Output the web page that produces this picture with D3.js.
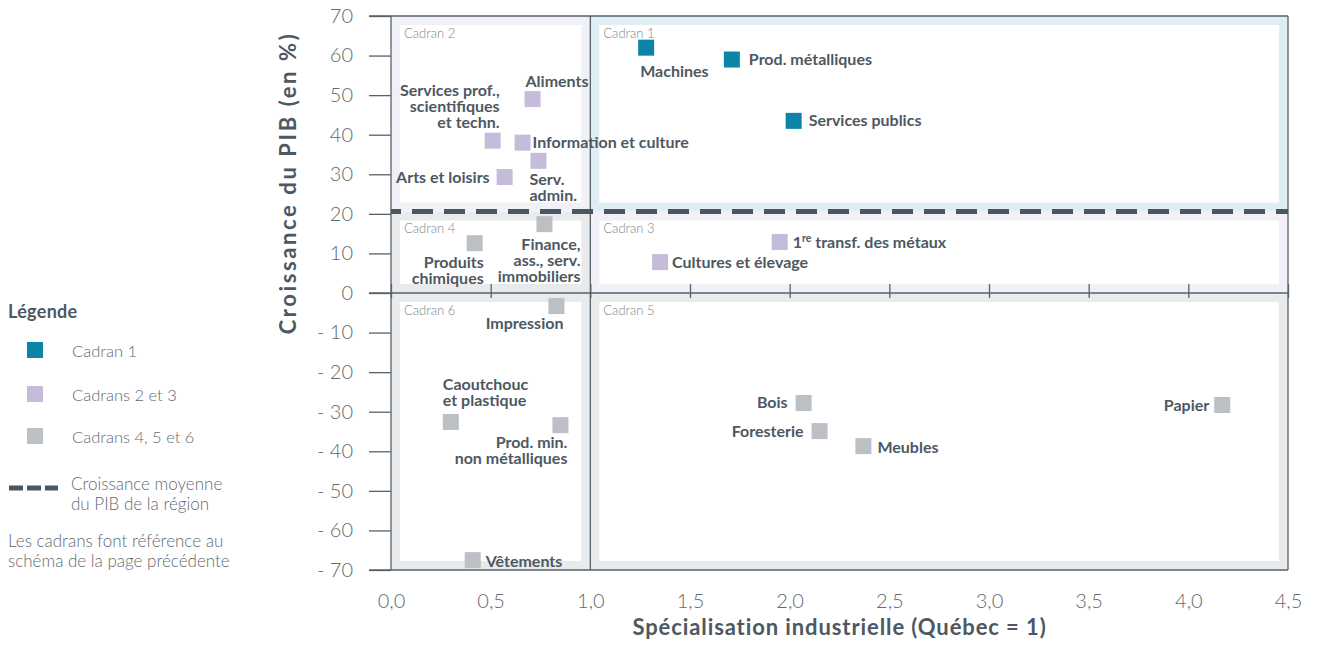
<!DOCTYPE html>
<html>
<head>
<meta charset="utf-8">
<script src="https://cdn.jsdelivr.net/npm/d3@7/dist/d3.min.js"></script>
<style>
  html, body { margin: 0; padding: 0; background: #fff; }
  svg { display: block; font-family: Lato, "Open Sans", sans-serif; }
</style>
</head>
<body>
<svg id="chart" width="1319" height="651"></svg>
<script>
// ---- Data ----
const secteurs = ["Machines", "Prod. métalliques", "Services publics", "Aliments", "Services prof.",
  "Information et culture", "Serv. admin.", "Arts et loisirs", "Finance", "Produits chimiques",
  "1re transf. des métaux", "Cultures et élevage", "Impression", "Caoutchouc et plastique",
  "Prod. min. non métalliques", "Vêtements", "Bois", "Foresterie", "Meubles", "Papier"];
const specialisation = [1.28, 1.71, 2.02, 0.71, 0.51, 0.66, 0.74, 0.57, 0.77, 0.42,
  1.95, 1.35, 0.83, 0.30, 0.85, 0.41, 2.07, 2.15, 2.37, 4.17];
const croissance = [62, 59, 43.5, 49, 38.5, 38, 33.4, 29.3, 17.4, 12.6,
  12.9, 7.8, -3.3, -32.6, -33.4, -67.5, -27.8, -34.9, -38.7, -28.3];
const groupe = [1, 1, 1, 2, 2, 2, 2, 2, 4, 4, 2, 2, 4, 4, 4, 4, 4, 4, 4, 4];
const etiquettes = [["Machines"], ["Prod. métalliques"], ["Services publics"], ["Aliments"],
  ["Services prof.,", "scientifiques", "et techn."], ["Information et culture"], ["Serv.", "admin."],
  ["Arts et loisirs"], ["Finance,", "ass., serv.", "immobiliers"], ["Produits", "chimiques"],
  ["1re transf. des métaux"], ["Cultures et élevage"], ["Impression"], ["Caoutchouc", "et plastique"],
  ["Prod. min.", "non métalliques"], ["Vêtements"], ["Bois"], ["Foresterie"], ["Meubles"], ["Papier"]];
const croissanceMoyenne = 20.6;
const seuilSpecialisation = 1;
const xTicks = [0, 0.5, 1, 1.5, 2, 2.5, 3, 3.5, 4, 4.5];
const yTicks = [70, 60, 50, 40, 30, 20, 10, 0, -10, -20, -30, -40, -50, -60, -70];
const legendeItems = ["Cadran 1", "Cadrans 2 et 3", "Cadrans 4, 5 et 6"];
const cadrans = [
  {nom: "Cadran 1", x: [1, 4.5], y: [croissanceMoyenne, 70], bg: "#dfeef3"},
  {nom: "Cadran 2", x: [0, 1], y: [croissanceMoyenne, 70], bg: "#f0f0f6"},
  {nom: "Cadran 3", x: [1, 4.5], y: [0, croissanceMoyenne], bg: "#f0f0f6"},
  {nom: "Cadran 4", x: [0, 1], y: [0, croissanceMoyenne], bg: "#e9eaec"},
  {nom: "Cadran 5", x: [1, 4.5], y: [-70, 0], bg: "#e9eaec"},
  {nom: "Cadran 6", x: [0, 1], y: [-70, 0], bg: "#e9eaec"}
];

// ---- Label placement (px offsets from point centre) ----
const placement = {
  "Machines": {dx: -6, dy: 29, a: "start"},
  "Prod. métalliques": {dx: 17, dy: 5, a: "start"},
  "Services publics": {dx: 15, dy: 5, a: "start"},
  "Aliments": {dx: -7, dy: -12, a: "start"},
  "Services prof.": {dx: 7, dy: -45, a: "end"},
  "Information et culture": {dx: 10, dy: 5, a: "start"},
  "Serv. admin.": {dx: -9, dy: 24, a: "start"},
  "Arts et loisirs": {dx: -15, dy: 6, a: "end"},
  "Finance": {dx: 36, dy: 26, a: "end"},
  "Produits chimiques": {dx: 9, dy: 25, a: "end"},
  "1re transf. des métaux": {dx: 13, dy: 6, a: "start"},
  "Cultures et élevage": {dx: 12, dy: 6, a: "start"},
  "Impression": {dx: 7, dy: 23, a: "end"},
  "Caoutchouc et plastique": {dx: -8, dy: -32, a: "start"},
  "Prod. min. non métalliques": {dx: 7, dy: 23, a: "end"},
  "Vêtements": {dx: 13, dy: 7, a: "start"},
  "Bois": {dx: -16, dy: 5, a: "end"},
  "Foresterie": {dx: -16, dy: 6, a: "end"},
  "Meubles": {dx: 14, dy: 7, a: "start"},
  "Papier": {dx: -13, dy: 6, a: "end"}
};

const couleurs = {1: "#0b84a5", 2: "#c4bcd9", 4: "#bcbfc3"};
const frameColor = "#56626b";
const textColor = "#4d5862";
const lightText = "#5f6a72";

const svg = d3.select("#chart");
const x = d3.scaleLinear().domain([0, 4.5]).range([391, 1288]);
const y = d3.scaleLinear().domain([-70, 70]).range([570, 16]);

// quadrant backgrounds
const inset = 9;
const gq = svg.append("g");
cadrans.forEach(c => {
  const x0 = x(c.x[0]), x1 = x(c.x[1]), y0 = y(c.y[1]), y1 = y(c.y[0]);
  gq.append("rect").attr("x", x0).attr("y", y0).attr("width", x1 - x0).attr("height", y1 - y0).attr("fill", c.bg);
  gq.append("rect").attr("x", x0 + inset).attr("y", y0 + inset).attr("width", x1 - x0 - 2 * inset)
    .attr("height", y1 - y0 - 2 * inset).attr("fill", "#fff");
  gq.append("text").attr("x", x0 + 13).attr("y", y0 + 22).attr("font-size", 13).attr("font-weight", 300)
    .attr("fill", "#7d878f").text(c.nom);
});

// y axis ticks & labels
const yAxis = d3.axisLeft(y).tickValues(yTicks).tickSize(22).tickPadding(16)
  .tickFormat(d => d < 0 ? "- " + Math.abs(d) : String(d));
const gy = svg.append("g").attr("transform", `translate(${x(0)},0)`).call(yAxis);
gy.select(".domain").remove();
gy.selectAll("line").attr("stroke", frameColor).attr("stroke-width", 1.3);
gy.selectAll("text").attr("font-size", 20).attr("font-weight", 300).attr("fill", lightText)
  .attr("font-family", "Lato, sans-serif");

// frame lines
const gf = svg.append("g").attr("stroke", frameColor).attr("stroke-width", 1.3);
[0, seuilSpecialisation, 4.5].forEach(v => gf.append("line").attr("x1", x(v)).attr("x2", x(v)).attr("y1", y(70)).attr("y2", y(-70)));
[70, 0, -70].forEach(v => gf.append("line").attr("x1", x(0) - 22).attr("x2", x(4.5)).attr("y1", y(v)).attr("y2", y(v)));

// ticks on zero line
const gz = svg.append("g").attr("transform", `translate(0,${y(0)})`)
  .call(d3.axisBottom(x).tickValues(xTicks).tickSize(5).tickFormat(""));
gz.select(".domain").remove();
gz.selectAll("line").attr("y1", -9).attr("y2", 5).attr("stroke", frameColor).attr("stroke-width", 1.3);

// x axis labels
const gx = svg.append("g").attr("transform", `translate(0,${y(-70)})`)
  .call(d3.axisBottom(x).tickValues(xTicks).tickSize(0).tickPadding(24).tickFormat(d => d3.format(".1f")(d).replace(".", ",")));
gx.select(".domain").remove();
gx.selectAll("text").attr("font-size", 20).attr("font-weight", 300).attr("fill", lightText)
  .attr("font-family", "Lato, sans-serif");

// average growth dashed line
svg.append("line").attr("x1", x(0)).attr("x2", x(4.5)).attr("y1", y(croissanceMoyenne)).attr("y2", y(croissanceMoyenne))
  .attr("stroke", "#4a5761").attr("stroke-width", 5).attr("stroke-dasharray", "21,11").attr("stroke-dashoffset", 11);

// points
const pts = secteurs.map((s, i) => ({nom: s, sx: specialisation[i], cy: croissance[i], g: groupe[i], lab: etiquettes[i]}));
const sq = 16;
svg.append("g").selectAll("rect").data(pts).join("rect")
  .attr("x", d => x(d.sx) - sq / 2).attr("y", d => y(d.cy) - sq / 2)
  .attr("width", sq).attr("height", sq).attr("fill", d => couleurs[d.g]);

// labels
const gl = svg.append("g").attr("font-size", 16).attr("font-weight", 700).attr("fill", textColor);
pts.forEach(d => {
  const p = placement[d.nom];
  const t = gl.append("text").attr("text-anchor", p.a)
    .attr("x", x(d.sx) + p.dx).attr("y", y(d.cy) + p.dy);
  d.lab.forEach((line, k) => {
    if (line.startsWith("1re")) {
      t.append("tspan").attr("x", x(d.sx) + p.dx).attr("dy", 0).text("1");
      t.append("tspan").attr("font-size", 10.5).attr("dy", -6).text("re");
      t.append("tspan").attr("dy", 6).text(line.slice(3));
    } else {
      t.append("tspan").attr("x", x(d.sx) + p.dx).attr("dy", k === 0 ? 0 : 16).text(line);
    }
  });
});

// axis titles
svg.append("text").attr("x", (x(0) + x(4.5)) / 2).attr("y", 635).attr("text-anchor", "middle")
  .attr("font-size", 22).attr("font-weight", 700).attr("letter-spacing", 0.9).attr("fill", textColor)
  .text("Spécialisation industrielle (Québec = 1)");
svg.append("text").attr("transform", `translate(296,${(y(70) + y(-70)) / 2 - 110}) rotate(-90)`)
  .attr("text-anchor", "middle").attr("font-size", 22).attr("font-weight", 700).attr("letter-spacing", 2.6).attr("fill", textColor)
  .text("Croissance du PIB (en %)");

// legend
const lg = svg.append("g");
lg.append("text").attr("x", 8).attr("y", 318).attr("font-size", 18).attr("font-weight", 700)
  .attr("letter-spacing", 0.3).attr("fill", textColor).text("Légende");
const legY = [350, 394, 436];
legendeItems.forEach((t, i) => {
  lg.append("rect").attr("x", 27).attr("y", legY[i] - 8).attr("width", 16).attr("height", 16).attr("fill", couleurs[[1, 2, 4][i]]);
  lg.append("text").attr("x", 72).attr("y", legY[i] + 7).attr("font-size", 16.5).attr("font-weight", 300).attr("fill", lightText).text(t);
});
lg.append("line").attr("x1", 9).attr("x2", 58).attr("y1", 488).attr("y2", 488)
  .attr("stroke", "#4a5761").attr("stroke-width", 5).attr("stroke-dasharray", "14,4");
const lt = lg.append("text").attr("font-size", 17).attr("font-weight", 300).attr("fill", lightText);
lt.append("tspan").attr("x", 71).attr("y", 490).text("Croissance moyenne");
lt.append("tspan").attr("x", 71).attr("y", 510).text("du PIB de la région");
const ln = lg.append("text").attr("font-size", 17).attr("font-weight", 300).attr("fill", lightText);
ln.append("tspan").attr("x", 8).attr("y", 547).text("Les cadrans font référence au");
ln.append("tspan").attr("x", 8).attr("y", 567).text("schéma de la page précédente");
</script>
</body>
</html>
